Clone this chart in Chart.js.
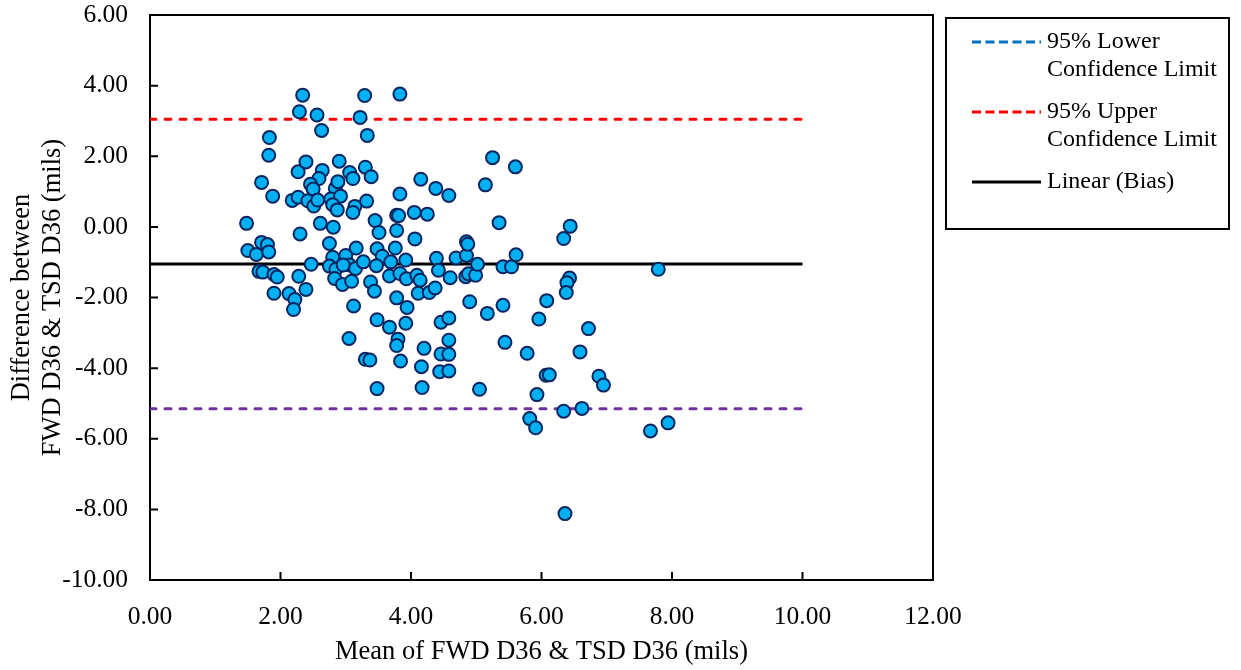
<!DOCTYPE html>
<html>
<head>
<meta charset="utf-8">
<script src="https://cdn.jsdelivr.net/npm/chart.js@4.4.0/dist/chart.umd.min.js"></script>
<style>
  html, body { margin: 0; padding: 0; background: #fff; }
  #wrap { position: relative; width: 1241px; height: 670px; }
</style>
</head>
<body>
<div id="wrap"><canvas id="chart"></canvas></div>
<script>
// mean of the two devices (x) and their difference (y)
const meanVals = [
  1.48, 1.50, 1.63, 1.71, 1.80, 1.82, 1.71, 1.83, 1.82, 1.88,
  1.67, 1.73, 1.90, 1.95, 1.90, 2.13, 2.22, 2.20, 2.18, 2.27,
  2.27, 2.34, 2.29, 2.56, 2.63, 2.39, 2.64, 2.59, 2.46, 2.50,
  2.42, 2.51, 2.57, 2.30, 2.61, 2.81, 2.75, 2.47, 2.28, 2.39,
  2.90, 2.84, 2.88, 2.77, 2.92, 2.80, 2.87, 2.80, 2.75, 2.85,
  2.83, 2.95, 3.09, 3.00, 3.06, 3.15, 3.27, 3.16, 2.96, 3.06,
  3.11, 3.14, 3.11, 3.32, 3.29, 3.83, 3.22, 3.33, 3.30, 3.39,
  3.45, 3.51, 3.48, 3.56, 3.47, 3.38, 3.44, 3.12, 3.05, 3.30,
  3.37, 3.48, 3.48, 3.76, 3.69, 3.67, 3.83, 3.93, 3.92, 4.09,
  4.14, 4.11, 4.28, 4.37, 3.78, 3.94, 3.67, 3.92, 3.80, 3.78,
  3.84, 4.20, 4.16, 4.17, 3.78, 3.81, 3.83, 4.05, 4.25, 3.78,
  4.06, 4.15, 4.38, 4.58, 4.39, 4.42, 4.60, 4.69, 4.85, 4.85,
  4.87, 4.84, 4.88, 4.99, 5.02, 4.90, 5.17, 4.46, 4.58, 4.58,
  4.46, 4.58, 4.44, 4.58, 5.05, 5.25, 5.14, 5.60, 5.35, 5.41,
  5.54, 5.61, 5.41, 6.08, 5.96, 5.44, 5.78, 6.07, 6.12, 5.93,
  5.82, 5.91, 6.34, 6.44, 6.43, 6.39, 6.38, 6.72, 6.59, 6.88,
  6.95, 6.34, 6.62, 6.36, 7.79, 7.67, 7.94
];
const diffVals = [
  0.10, -0.67, -0.78, -0.44, -0.50, -0.71, 1.26, 2.53, 2.03, 0.87,
  -1.26, -1.28, -1.35, -1.42, -1.88, -1.89, -2.06, -2.34, 0.75, 0.84,
  1.56, 3.73, 3.26, 3.17, 2.73, 1.84, 1.60, 1.37, 1.21, 1.07,
  0.74, 0.59, 0.76, -0.20, 0.10, -0.01, -0.47, -1.06, -1.40, -1.77,
  1.86, 1.09, 1.28, 0.79, 0.87, 0.63, 0.48, -0.86, -1.11, -1.20,
  -1.46, -1.63, -1.54, -0.81, -1.08, -1.18, -0.99, -0.60, -1.08, 1.54,
  1.37, 0.58, 0.41, 0.73, 3.72, 3.76, 3.10, 2.59, 1.69, 1.42,
  0.18, -0.16, -0.62, -0.83, -1.10, -1.56, -1.82, -2.24, -3.16, -3.75,
  -3.77, -4.58, -2.63, -0.60, -0.99, -1.39, -1.32, -1.47, -0.94, -1.37,
  -1.51, -1.88, -1.86, -1.73, -2.01, -2.28, -2.84, -2.73, -3.18, -3.36,
  -3.80, -3.44, -3.96, -4.55, 0.33, 0.32, 0.93, 0.41, 0.36, -0.10,
  -0.34, 1.35, 1.09, 0.89, -0.89, -1.23, -1.44, -0.88, -0.81, -0.42,
  -0.49, -1.41, -1.33, -1.37, -1.06, -2.12, -2.45, -2.70, -2.58, -3.21,
  -3.60, -3.61, -4.10, -4.08, -4.60, 1.96, 1.19, 1.70, 0.12, -1.13,
  -1.13, -0.79, -2.22, -2.09, -2.61, -3.27, -3.58, -4.20, -4.19, -4.75,
  -5.43, -5.69, -0.33, 0.02, -1.45, -1.58, -1.86, -2.88, -3.54, -4.23,
  -4.48, -5.22, -5.14, -8.12, -1.20, -5.78, -5.55
];

// limits of agreement and the bias line, drawn from 0 to 10 on x
const lineSpan = [0, 10];
const upperLimit = 3.05;
const biasValue = -1.05;
const lowerLimit = -5.15;

const legendLabels = [
  ["95% Lower", "Confidence Limit"],
  ["95% Upper", "Confidence Limit"],
  ["Linear (Bias)"]
];
const legendColors = ["#0070C0", "#FF0000", "#000000"];
const legendDashed = [true, true, false];

const serif = "'Liberation Serif', 'Times New Roman', serif";

const points = meanVals.map((m, i) => ({ x: m, y: diffVals[i] }));
const flat = (v) => lineSpan.map((x) => ({ x: x, y: v }));

// plot frame and the inward tick marks
const framePlugin = {
  id: "frame",
  beforeDatasetsDraw(chart) {
    const { ctx, chartArea: a, scales } = chart;
    ctx.save();
    ctx.strokeStyle = "#000";
    ctx.lineWidth = 2;
    ctx.strokeRect(a.left, a.top, a.right - a.left, a.bottom - a.top);
    ctx.beginPath();
    scales.y.ticks.forEach((t) => {
      const py = scales.y.getPixelForValue(t.value);
      ctx.moveTo(a.left, py);
      ctx.lineTo(a.left + 8, py);
    });
    scales.x.ticks.forEach((t) => {
      const px = scales.x.getPixelForValue(t.value);
      ctx.moveTo(px, a.bottom);
      ctx.lineTo(px, a.bottom - 8);
    });
    ctx.stroke();
    ctx.restore();
  }
};

// boxed legend to the right of the plot
const legendPlugin = {
  id: "boxLegend",
  afterDraw(chart) {
    const ctx = chart.ctx;
    ctx.save();
    ctx.strokeStyle = "#000";
    ctx.lineWidth = 2;
    ctx.strokeRect(946, 18, 283, 211);
    ctx.font = "24px " + serif;
    ctx.fillStyle = "#000";
    ctx.textBaseline = "middle";
    const rows = [42, 112, 182];
    legendLabels.forEach((lines, i) => {
      const y = rows[i];
      ctx.beginPath();
      ctx.strokeStyle = legendColors[i];
      ctx.lineWidth = 3;
      ctx.setLineDash(legendDashed[i] ? [9, 4.5] : []);
      ctx.moveTo(972, y);
      ctx.lineTo(1041, y);
      ctx.stroke();
      ctx.setLineDash([]);
      lines.forEach((txt, k) => ctx.fillText(txt, 1047, y + k * 28));
    });
    ctx.restore();
  }
};

new Chart(document.getElementById("chart"), {
  type: "scatter",
  data: {
    datasets: [
      {
        label: "Difference",
        data: points,
        backgroundColor: "#00B0F0",
        borderColor: "#082560",
        borderWidth: 2,
        pointRadius: 6.5,
        order: 0
      },
      {
        type: "line",
        label: "95% Lower Confidence Limit",
        data: flat(lowerLimit),
        borderColor: "#7030A0",
        borderWidth: 3,
        borderDash: [6, 9],
        borderCapStyle: "round",
        pointRadius: 0,
        order: 1
      },
      {
        type: "line",
        label: "95% Upper Confidence Limit",
        data: flat(upperLimit),
        borderColor: "#FF0000",
        borderWidth: 3,
        borderDash: [6, 9],
        borderCapStyle: "round",
        pointRadius: 0,
        order: 1
      },
      {
        type: "line",
        label: "Linear (Bias)",
        data: flat(biasValue),
        borderColor: "#000000",
        borderWidth: 3,
        pointRadius: 0,
        order: 1
      }
    ]
  },
  options: {
    responsive: true,
    maintainAspectRatio: false,
    animation: false,
    layout: { padding: { left: 0, top: 15, right: 308, bottom: 0 } },
    plugins: {
      legend: { display: false },
      tooltip: { enabled: false }
    },
    scales: {
      x: {
        type: "linear",
        min: 0,
        max: 12,
        afterFit: (s) => { s.height = 90; },
        border: { display: false },
        grid: { display: false, drawTicks: false },
        ticks: {
          stepSize: 2,
          padding: 22,
          color: "#000",
          font: { family: serif, size: 25.5 },
          callback: (v) => v.toFixed(2)
        },
        title: {
          display: true,
          text: "Mean of FWD D36 & TSD D36 (mils)",
          color: "#000",
          font: { family: serif, size: 26.5, lineHeight: 1.15 },
          padding: { top: 0, bottom: 3 }
        }
      },
      y: {
        type: "linear",
        min: -10,
        max: 6,
        afterFit: (s) => {
          s.width = 150;
          s.paddingTop = 0;
          s.paddingBottom = 0;
        },
        border: { display: false },
        grid: { display: false, drawTicks: false },
        ticks: {
          stepSize: 2,
          padding: 22,
          color: "#000",
          font: { family: serif, size: 25.5 },
          callback: (v) => v.toFixed(2)
        },
        title: {
          display: true,
          text: ["Difference between", "FWD D36 & TSD D36 (mils)"],
          color: "#000",
          font: { family: serif, size: 26.5, lineHeight: 1.15 },
          padding: { top: 7, bottom: 0 }
        }
      }
    }
  },
  plugins: [framePlugin, legendPlugin]
});
</script>
</body>
</html>
